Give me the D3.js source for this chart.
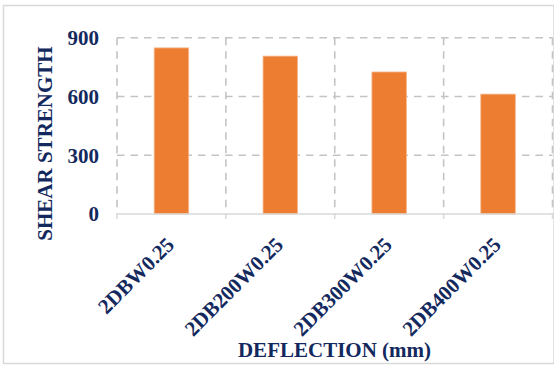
<!DOCTYPE html>
<html>
<head>
<meta charset="utf-8">
<script src="https://cdn.jsdelivr.net/npm/d3@7"></script>
<style>
  html, body { margin: 0; padding: 0; background: #fff; }
  svg { display: block; }
  text { font-family: "Liberation Serif", "Times New Roman", serif; font-weight: bold; fill: #13295e; }
</style>
</head>
<body>
<svg id="chart" width="554" height="365"></svg>
<script>
// Shear strength per specimen
const categories = ["2DBW0.25", "2DB200W0.25", "2DB300W0.25", "2DB400W0.25"];
const shearStrength = [848, 806, 725, 612];
const yTicks = [0, 300, 600, 900];
const yTitle = "SHEAR STRENGTH";
const xTitle = "DEFLECTION (mm)";

const svg = d3.select("#chart");
const W = 554, H = 365;
const plot = { left: 117, right: 552.5, top: 37.7, bottom: 214 };

// outer chart frame
svg.append("rect")
  .attr("x", 3.5).attr("y", 5.5)
  .attr("width", W - 3.5).attr("height", 358)
  .attr("fill", "#fff").attr("stroke", "#d9d9d9").attr("stroke-width", 1.5);

const x = d3.scaleBand().domain(categories).range([plot.left, plot.right]).paddingInner(0).paddingOuter(0);
const y = d3.scaleLinear().domain([0, 900]).range([plot.bottom, plot.top]);

const grid = svg.append("g").attr("stroke", "#c4c4c4").attr("stroke-width", 1.6)
  .attr("stroke-dasharray", "7.5,6").attr("fill", "none");

// horizontal dashed gridlines (above zero)
grid.selectAll("line.h").data(yTicks.filter(t => t > 0)).join("line")
  .attr("x1", plot.left).attr("x2", plot.right)
  .attr("y1", d => y(d)).attr("y2", d => y(d));

// vertical dashed gridlines at category boundaries
const bounds = categories.map(c => x(c)).concat([x(categories[categories.length - 1]) + x.bandwidth()]);
grid.selectAll("line.v").data(bounds).join("line")
  .attr("x1", d => d).attr("x2", d => d)
  .attr("y1", plot.top).attr("y2", plot.bottom);

// bars
const barW = x.bandwidth() * 0.317;
svg.append("g").selectAll("rect").data(categories).join("rect")
  .attr("x", c => x(c) + (x.bandwidth() - barW) / 2)
  .attr("width", barW)
  .attr("y", (c, i) => y(shearStrength[i]))
  .attr("height", (c, i) => y(0) - y(shearStrength[i]))
  .attr("fill", "#ed7d31")
  .attr("stroke", "#f6b88c").attr("stroke-width", 0.8);

// category axis line and tick marks
const xAxis = svg.append("g").attr("stroke", "#d9d9d9").attr("stroke-width", 1.5);
xAxis.append("line").attr("x1", plot.left).attr("x2", plot.right)
  .attr("y1", plot.bottom).attr("y2", plot.bottom);
xAxis.selectAll("line.t").data(bounds).join("line")
  .attr("x1", d => d).attr("x2", d => d)
  .attr("y1", plot.bottom).attr("y2", plot.bottom + 5);

// value tick labels
svg.append("g").selectAll("text").data(yTicks).join("text")
  .attr("x", 99).attr("y", d => y(d))
  .attr("dy", "0.35em")
  .attr("text-anchor", "end")
  .attr("font-size", 21)
  .text(d => d);

// rotated category labels
svg.append("g").selectAll("text").data(categories).join("text")
  .attr("transform", c => `translate(${x(c) + x.bandwidth() / 2 + 4},${246}) rotate(-45)`)
  .attr("text-anchor", "end")
  .attr("font-size", 21)
  .text(c => c);

// axis titles
svg.append("text")
  .attr("transform", "translate(52,143.5) rotate(-90)")
  .attr("text-anchor", "middle")
  .attr("font-size", 21)
  .text(yTitle);

svg.append("text")
  .attr("x", 334.5).attr("y", 357)
  .attr("text-anchor", "middle")
  .attr("font-size", 21)
  .text(xTitle);
</script>
</body>
</html>
